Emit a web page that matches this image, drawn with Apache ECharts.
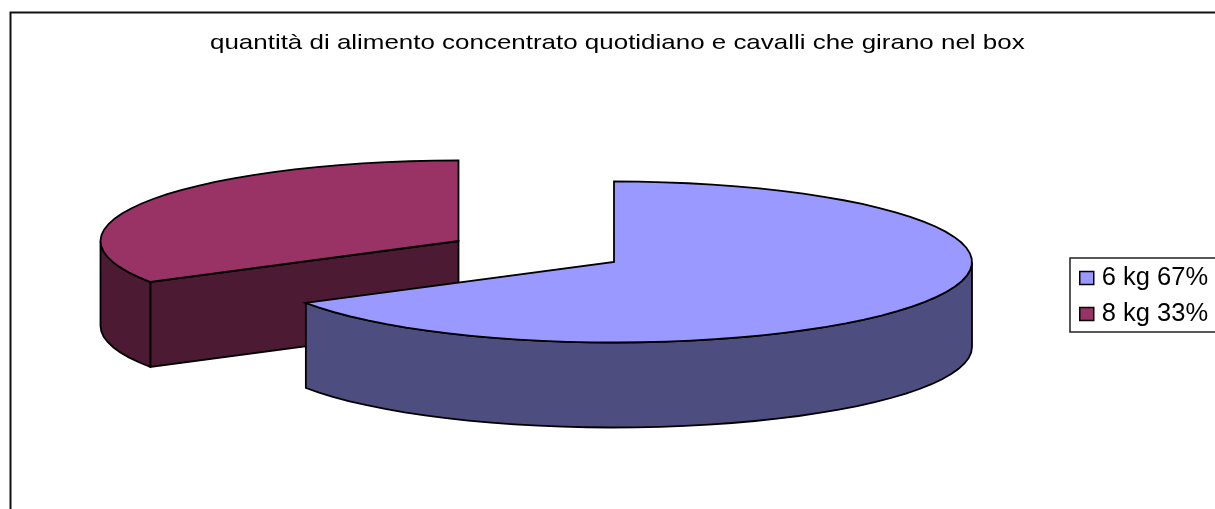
<!DOCTYPE html>
<html><head><meta charset="utf-8">
<style>html,body{margin:0;padding:0;background:#fff;overflow:hidden}#c{width:1215px;height:509px}</style>
<script src="https://cdn.jsdelivr.net/npm/echarts@6/dist/echarts.min.js"></script>
</head><body><div id="c"></div>
<script>
const titleText = 'quantità di alimento concentrato quotidiano e cavalli che girano nel box';
const categories = ['6 kg', '8 kg'];
const percentLabels = ['67%', '33%'];
const sliceValues = [66.5, 33.5];
const topColors = ['#9999FF', '#993366'];
const wallColors = ['#4D4D80', '#4D1A33'];

const CX = 614, CY = 262, RX = 358, RY = 80.5, DEPTH = 85;
const EXPLODE = [[0, 0], [-155.5, -21]];
const total = sliceValues.reduce((a, b) => a + b, 0);
const names = categories.map((c, i) => c + ' ' + percentLabels[i]);

function arcPts(cx, cy, a0, a1, dy) {
  const n = Math.max(2, Math.ceil(Math.abs(a1 - a0) / 4));
  const out = [];
  for (let k = 0; k <= n; k++) {
    const t = (a0 + (a1 - a0) * k / n) * Math.PI / 180;
    out.push([cx + RX * Math.sin(t), cy - RY * Math.cos(t) + dy]);
  }
  return out;
}
function sliceRender(i) {
  return function (params, api) {
    const before = sliceValues.slice(0, i).reduce((a, b) => a + b, 0);
    const a0 = before / total * 360;
    const a1 = (before + api.value(0)) / total * 360;
    const cx = CX + EXPLODE[i][0], cy = CY + EXPLODE[i][1];
    const style = c => ({ fill: c, stroke: '#000', lineWidth: 1.8, lineJoin: 'miter' });
    const children = [];
    // cut face seen from the front: only the face whose edge runs left from the centre
    if (a1 - a0 < 180) {
      const e = arcPts(cx, cy, a0, a0, 0)[0];
      children.push({ type: 'polygon', shape: { points: [[cx, cy], e, [e[0], e[1] + DEPTH], [cx, cy + DEPTH]] }, style: style(wallColors[i]) });
    }
    // outer wall: the part of the rim facing the viewer (90..270 degrees)
    const w0 = Math.max(a0, 90), w1 = Math.min(a1, 270);
    if (w1 > w0) {
      const upper = arcPts(cx, cy, w0, w1, 0);
      const lower = arcPts(cx, cy, w1, w0, DEPTH);
      children.push({ type: 'polygon', shape: { points: upper.concat(lower) }, style: style(wallColors[i]) });
    }
    children.push({ type: 'polygon', shape: { points: [[cx, cy]].concat(arcPts(cx, cy, a0, a1, 0)) }, style: style(topColors[i]) });
    return { type: 'group', children };
  };
}
// drawn back to front: the exploded slice first
const series = [1, 0].map(i => ({
  type: 'custom',
  name: names[i],
  coordinateSystem: 'none',
  silent: true,
  animation: false,
  itemStyle: { color: topColors[i] },
  data: [[sliceValues[i]]],
  renderItem: sliceRender(i)
}));

const chart = echarts.init(document.getElementById('c'), null, { renderer: 'canvas' });
chart.setOption({
  backgroundColor: '#fff',
  animation: false,
  graphic: [{
    type: 'rect', silent: true, z: -1,
    shape: { x: 10.5, y: 12.5, width: 1400, height: 700 },
    style: { fill: '#fff', stroke: '#111', lineWidth: 2 }
  }, {
    type: 'text', silent: true, x: 210, y: 43, scaleX: 1.235, scaleY: 1,
    style: {
      text: titleText, textAlign: 'left', textVerticalAlign: 'middle',
      font: '21px "Liberation Sans"', fill: '#000'
    }
  }],
  legend: {
    data: names, orient: 'vertical', left: 1070, top: 258,
    padding: [7, 60, 5, 9],
    itemWidth: 14, itemHeight: 13, itemGap: 10,
    borderColor: '#222', borderWidth: 1.5, backgroundColor: '#fff',
    selectedMode: false, icon: 'rect',
    itemStyle: { borderColor: '#000', borderWidth: 1.5 },
    textStyle: { fontFamily: 'Liberation Sans', fontSize: 25.5, color: '#000', padding: [0, 0, 0, 3] }
  },
  series
});
</script></body></html>
